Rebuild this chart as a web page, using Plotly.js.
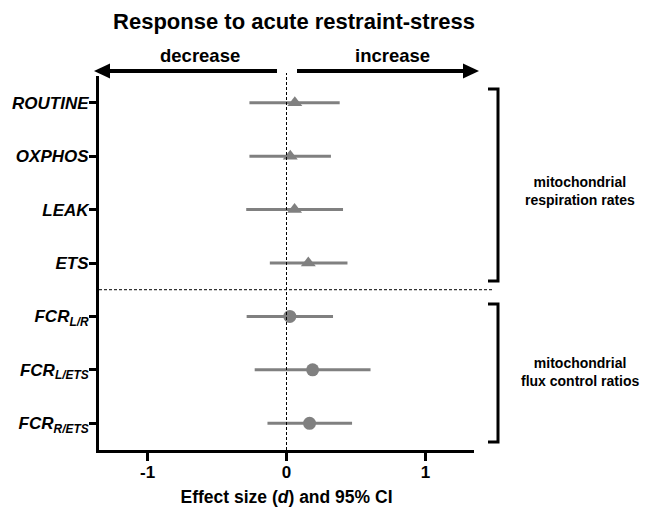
<!DOCTYPE html>
<html>
<head>
<meta charset="utf-8">
<script src="https://cdn.plot.ly/plotly-3.0.1.min.js"></script>
<style>html,body{margin:0;padding:0;background:#fff;}#chart{width:652px;height:508px;}</style>
</head>
<body>
<div id="chart"></div>
<script>
// ---- data ----
const categories = ['ROUTINE', 'OXPHOS', 'LEAK', 'ETS', 'FCR<sub>L/R</sub>', 'FCR<sub>L/ETS</sub>', 'FCR<sub>R/ETS</sub>'];
const effectSize = [0.060, 0.027, 0.058, 0.157, 0.024, 0.188, 0.166];
const ciLower    = [-0.267, -0.267, -0.290, -0.120, -0.287, -0.229, -0.137];
const ciUpper    = [0.383, 0.320, 0.407, 0.439, 0.335, 0.605, 0.472];
const groupRates = ['ROUTINE', 'OXPHOS', 'LEAK', 'ETS'];
const xTickVals  = [-1, 0, 1];
const xTickText  = ['-1', '0', '1'];

const FONT = 'Liberation Sans, Arial, Helvetica, sans-serif';
const GREY = '#808080';

const rowPos = categories.map((c, i) => i + 1);
function buildTrace(idx, symbol, size) {
  return {
    type: 'scatter', mode: 'markers',
    x: idx.map(i => effectSize[i]),
    y: idx.map(i => rowPos[i]),
    marker: {symbol: symbol, size: size, color: GREY},
    error_x: {
      type: 'data', symmetric: false,
      array: idx.map(i => ciUpper[i] - effectSize[i]),
      arrayminus: idx.map(i => effectSize[i] - ciLower[i]),
      color: GREY, thickness: 3, width: 0
    },
    hoverinfo: 'skip', showlegend: false
  };
}
const rateIdx = categories.map((c, i) => i).filter(i => groupRates.includes(categories[i]));
const fcrIdx = categories.map((c, i) => i).filter(i => !groupRates.includes(categories[i]));

// plot area in pixels: left 99, right 474, top 76, bottom 450
const L = 99, R = 474, T = 76, B = 450;
const px = x => (x - L) / (R - L);
const py = y => (B - y) / (B - T);

const shapes = [
  {type: 'line', xref: 'x', yref: 'paper', x0: 0, x1: 0, y0: 0, y1: py(73),
   line: {color: '#000', width: 1, dash: '3px,2px'}},
  {type: 'line', xref: 'paper', yref: 'y', x0: 0, x1: px(492), y0: 4.5, y1: 4.5,
   line: {color: '#000', width: 1, dash: '3px,2px'}},
  {type: 'line', xref: 'paper', yref: 'paper', x0: px(277), x1: px(106), y0: py(71), y1: py(71),
   line: {color: '#000', width: 4}},
  {type: 'path', xref: 'paper', yref: 'paper',
   path: `M${px(94)},${py(71)} L${px(110)},${py(63.5)} L${px(110)},${py(78.5)} Z`,
   fillcolor: '#000', line: {color: '#000', width: 0}},
  {type: 'line', xref: 'paper', yref: 'paper', x0: px(297), x1: px(466), y0: py(71), y1: py(71),
   line: {color: '#000', width: 4}},
  {type: 'path', xref: 'paper', yref: 'paper',
   path: `M${px(479)},${py(71)} L${px(463)},${py(63.5)} L${px(463)},${py(78.5)} Z`,
   fillcolor: '#000', line: {color: '#000', width: 0}},
  {type: 'path', xref: 'paper', yref: 'paper',
   path: `M${px(488)},${py(89)} L${px(498)},${py(89)} L${px(498)},${py(281)} L${px(488)},${py(281)}`,
   line: {color: '#000', width: 3}},
  {type: 'path', xref: 'paper', yref: 'paper',
   path: `M${px(488)},${py(304)} L${px(498)},${py(304)} L${px(498)},${py(442)} L${px(488)},${py(442)}`,
   line: {color: '#000', width: 3}}
];

const annotations = [
  {text: '<b>decrease</b>', xref: 'paper', yref: 'paper', x: px(200), y: py(55),
   showarrow: false, font: {family: FONT, size: 18.5, color: '#000'}, xanchor: 'center', yanchor: 'middle'},
  {text: '<b>increase</b>', xref: 'paper', yref: 'paper', x: px(392), y: py(55),
   showarrow: false, font: {family: FONT, size: 18.5, color: '#000'}, xanchor: 'center', yanchor: 'middle'},
  {text: '<b>mitochondrial<br>respiration rates</b>', xref: 'paper', yref: 'paper', x: px(580), y: py(191),
   showarrow: false, font: {family: FONT, size: 14, color: '#000'}, xanchor: 'center', yanchor: 'middle', align: 'center'},
  {text: '<b>mitochondrial<br>flux control ratios</b>', xref: 'paper', yref: 'paper', x: px(580), y: py(372),
   showarrow: false, font: {family: FONT, size: 14, color: '#000'}, xanchor: 'center', yanchor: 'middle', align: 'center'}
];

const layout = {
  width: 652, height: 508,
  margin: {l: L, r: 652 - R, t: T, b: 508 - B, pad: 0},
  paper_bgcolor: '#fff', plot_bgcolor: '#fff',
  font: {family: FONT, color: '#000'},
  title: {text: '<b>Response to acute restraint-stress</b>', font: {family: FONT, size: 22, color: '#000'},
          x: px(294), xanchor: 'center', y: 1 - 21 / 508, yanchor: 'middle', xref: 'paper'},
  xaxis: {
    range: [-1.35, 1.35], tickvals: xTickVals, ticktext: xTickText.map(t => '<b>' + t + '</b>'),
    ticks: 'outside', ticklen: 8, tickwidth: 3, tickcolor: '#000',
    showline: true, linewidth: 3, linecolor: '#000', zeroline: false, showgrid: false,
    tickfont: {family: FONT, size: 17, color: '#000'}, ticklabelstandoff: -3,
    title: {text: '<b>Effect size (<i>d</i>) and 95% CI</b>', font: {family: FONT, size: 17.5, color: '#000'}, standoff: 10},
    fixedrange: true
  },
  yaxis: {
    range: [7.5, 0.5], tickvals: rowPos, ticktext: categories.map(c => '<b><i>' + c + '</i></b>'),
    ticks: 'outside', ticklen: 7, tickwidth: 3, tickcolor: '#000',
    showline: true, linewidth: 3, linecolor: '#000', zeroline: false, showgrid: false,
    tickfont: {family: FONT, size: 17, color: '#000'}, ticklabelstandoff: -3,
    fixedrange: true
  },
  shapes: shapes,
  annotations: annotations,
  showlegend: false
};

Plotly.newPlot('chart', [buildTrace(rateIdx, 'triangle-up', 13), buildTrace(fcrIdx, 'circle', 13)], layout,
  {displayModeBar: false, staticPlot: true});
</script>
</body>
</html>
